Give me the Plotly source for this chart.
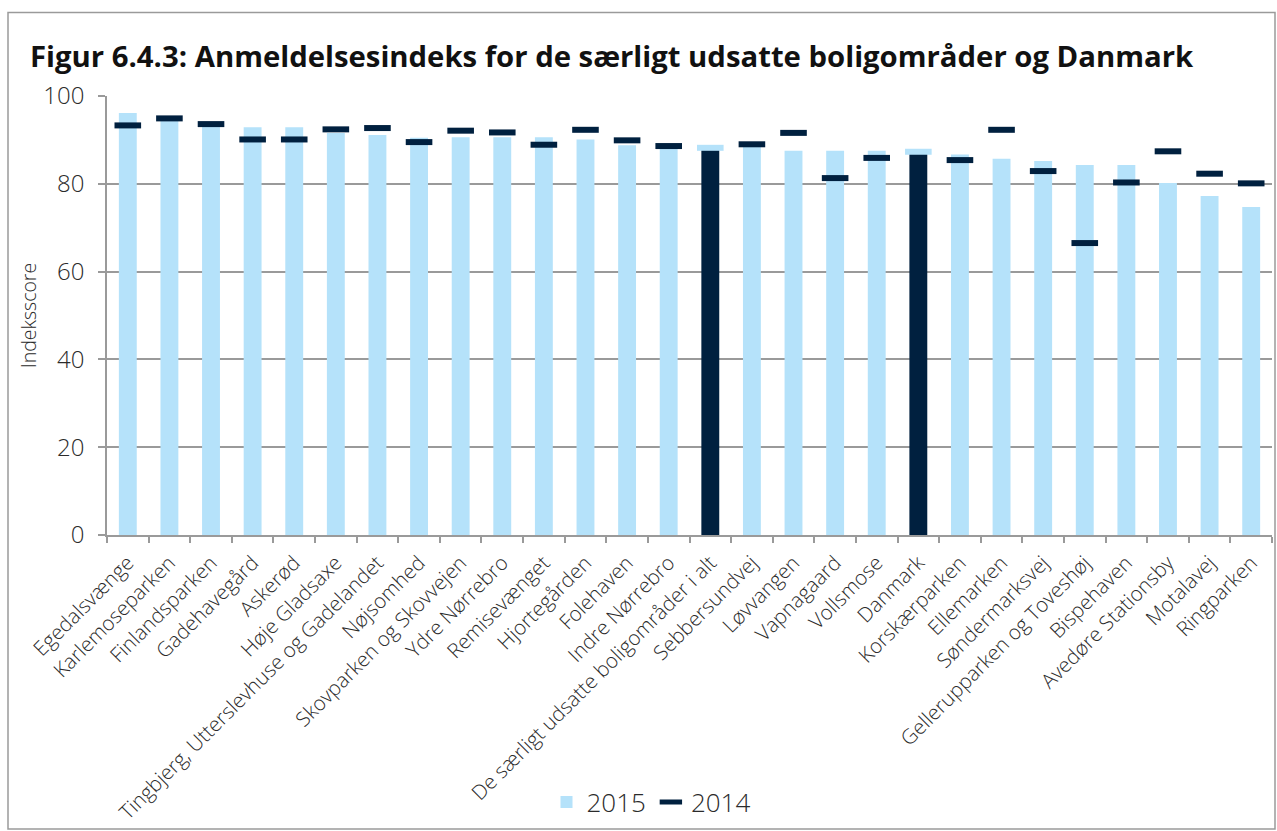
import plotly.graph_objects as go

categories = [
    "Egedalsvænge", "Karlemoseparken", "Finlandsparken", "Gadehavegård", "Askerød",
    "Høje Gladsaxe", "Tingbjerg, Utterslevhuse og Gadelandet", "Nøjsomhed",
    "Skovparken og Skovvejen", "Ydre Nørrebro", "Remisevænget", "Hjortegården",
    "Folehaven", "Indre Nørrebro", "De særligt udsatte boligområder i alt",
    "Sebbersundvej", "Løvvangen", "Vapnagaard", "Vollsmose", "Danmark",
    "Korskærparken", "Ellemarken", "Søndermarksvej", "Gellerupparken og Toveshøj",
    "Bispehaven", "Avedøre Stationsby", "Motalavej", "Ringparken",
]
values_2015 = [96.1, 95.0, 93.6, 92.9, 92.9, 91.6, 91.1, 90.5, 90.6, 90.6, 90.6, 90.1,
               88.8, 88.0, 87.7, 88.8, 87.5, 87.5, 87.5, 86.9, 86.7, 85.7, 85.2, 84.3,
               84.3, 80.2, 77.2, 74.7]
values_2014 = [93.3, 94.9, 93.6, 90.1, 90.1, 92.4, 92.7, 89.5, 92.1, 91.7, 88.9, 92.3,
               89.9, 88.6, 88.2, 89.0, 91.6, 81.3, 85.9, 87.3, 85.4, 92.3, 82.9, 66.5,
               80.3, 87.4, 82.3, 80.1]
highlighted = ["De særligt udsatte boligområder i alt", "Danmark"]
y_ticks = [0, 20, 40, 60, 80, 100]

LIGHT = "#B5E2FA"
NAVY = "#00203F"
GRID = "#9a9a9a"
TXT = "#2b2b2b"

bar_colors = [NAVY if c in highlighted else LIGHT for c in categories]
dash_colors = [LIGHT if c in highlighted else NAVY for c in categories]

fig = go.Figure()
fig.add_trace(go.Bar(
    x=categories, y=values_2015, name="2015",
    marker=dict(color=bar_colors, line=dict(width=0)),
    width=0.43,
))
fig.add_trace(go.Scatter(
    x=categories, y=values_2014, name="2014", mode="markers",
    marker=dict(symbol="line-ew", size=19, color=dash_colors,
                line=dict(color=dash_colors, width=6)),
))

W, H = 1277, 831
pl, pr, pt, pb = 107, 1272, 96, 535
fig.update_layout(
    width=W, height=H,
    margin=dict(l=pl, r=W - pr, t=pt, b=H - pb),
    paper_bgcolor="white", plot_bgcolor="white",
    showlegend=True,
    title=dict(
        text="<b>Figur 6.4.3: Anmeldelsesindeks for de særligt udsatte boligområder og Danmark</b>",
        x=30 / W, xanchor="left", xref="container",
        y=1 - 57 / H, yanchor="middle", yref="container",
        font=dict(family="Open Sans", size=29.3, color="#111111"),
    ),
    font=dict(family="Open Sans", color=TXT),
    legend=dict(
        orientation="h", x=(651 - pl) / (pr - pl), xanchor="center",
        y=(pb - 802) / (pb - pt), yanchor="middle",
        font=dict(size=26, color=TXT, family="Open Sans", weight=300),
        itemwidth=30, tracegroupgap=0,
    ),
    xaxis=dict(
        type="category", range=[-0.5, len(categories) - 0.5],
        showline=True, linecolor=GRID, linewidth=1.5,
        ticks="outside", tickson="boundaries", ticklen=6, tickcolor=GRID, tickwidth=1.5,
        tickangle=-45, ticklabelstandoff=6,
        tickfont=dict(size=20.5, color=TXT, family="Open Sans", weight=300),
        showgrid=False, automargin=False,
    ),
    yaxis=dict(
        range=[0, 100], tickvals=y_ticks, showline=True, linecolor=GRID, linewidth=1.5,
        ticks="outside", ticklen=7, tickcolor=GRID, tickwidth=1.5, ticklabelstandoff=9,
        showgrid=True, gridcolor=GRID, gridwidth=1.5, zeroline=False,
        tickfont=dict(size=24, color=TXT, family="Open Sans", weight=300),
        title=dict(text="Indeksscore", standoff=2,
                   font=dict(size=19.5, color=TXT, family="Open Sans", weight=300)),
        automargin=False,
    ),
    bargap=0.57,
    shapes=[dict(
        type="rect", xref="paper", yref="paper",
        x0=(8 - pl) / (pr - pl), x1=(1275 - pl) / (pr - pl),
        y0=(pb - 829) / (pb - pt), y1=(pb - 12.5) / (pb - pt),
        line=dict(color=GRID, width=1.5), fillcolor="rgba(0,0,0,0)", layer="below",
    )],
)

fig.write_html("out.html", config={"displayModeBar": False},
               post_script="document.body.style.margin='0';")
